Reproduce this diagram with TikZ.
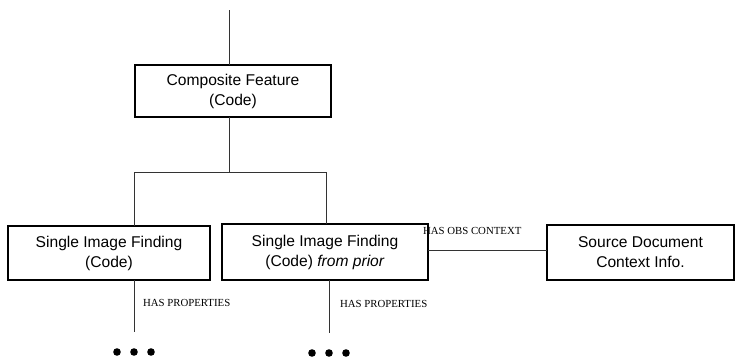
\documentclass[tikz,border=0pt]{standalone}
\usepackage{fontspec}
\setmainfont{Liberation Serif}
\newfontfamily\boxfont{Liberation Sans}
\usetikzlibrary{calc}

\begin{document}
\begin{tikzpicture}[x=1pt,y=-1pt,every node/.style={outer sep=0pt}]

	\tikzstyle{finding}=[draw,line width=1.3pt,align=center,inner sep=0pt,font=\boxfont\fontsize{15.6}{20}\selectfont]
	\tikzstyle{link}=[line width=0.8pt,draw=black!80]
	\tikzstyle{relation}=[font=\fontsize{10.8}{12}\selectfont,inner sep=0pt,anchor=west]

	\useasboundingbox (0,0) rectangle (738,356);

	\node (composite) at (233,91) [finding,minimum width=196pt,minimum height=52pt] {Composite Feature\\(Code)};
	\node (single) at (109,253) [finding,minimum width=202pt,minimum height=54pt] {Single Image Finding\\(Code)};
	\node (prior) at (325,252) [finding,minimum width=206pt,minimum height=56pt] {Single Image Finding\\(Code) \textit{from prior}};
	\node (source) at (640.5,252.5) [finding,minimum width=187pt,minimum height=55pt] {Source Document\\Context Info.};

	\coordinate (top) at (229,10);
	\coordinate (lbend) at (134,172);
	\coordinate (rbend) at (326,172);
	\coordinate (lmore) at (134,352);
	\coordinate (pmore) at (329,353);
	\coordinate (lend) at (134,332);
	\coordinate (pend) at (329,333);

	\draw [link] (top) -- (top |- composite.north);
	\draw [link] (top |- composite.south) -- (top |- lbend);
	\draw [link] (lbend) -- (rbend);
	\draw [link] (lbend) -- (lbend |- single.north);
	\draw [link] (rbend) -- (rbend |- prior.north);
	\draw [link] (prior.east |- 0,250) -- (source.west |- 0,250) node[relation,pos=0,anchor=base west,xshift=-5pt,yshift=16pt] {HAS OBS CONTEXT};
	\draw [link] (lend |- single.south) -- (lend) node[relation,pos=0.45,xshift=9pt] {HAS PROPERTIES};
	\draw [link] (pend |- prior.south) -- (pend) node[relation,pos=0.45,xshift=11pt] {HAS PROPERTIES};

	% more children below
	\foreach \dx in {-17,0,17} {
		\fill (lmore) ++(\dx,0) circle (3.8);
		\fill (pmore) ++(\dx,0) circle (3.8);
	}

\end{tikzpicture}
\end{document}
